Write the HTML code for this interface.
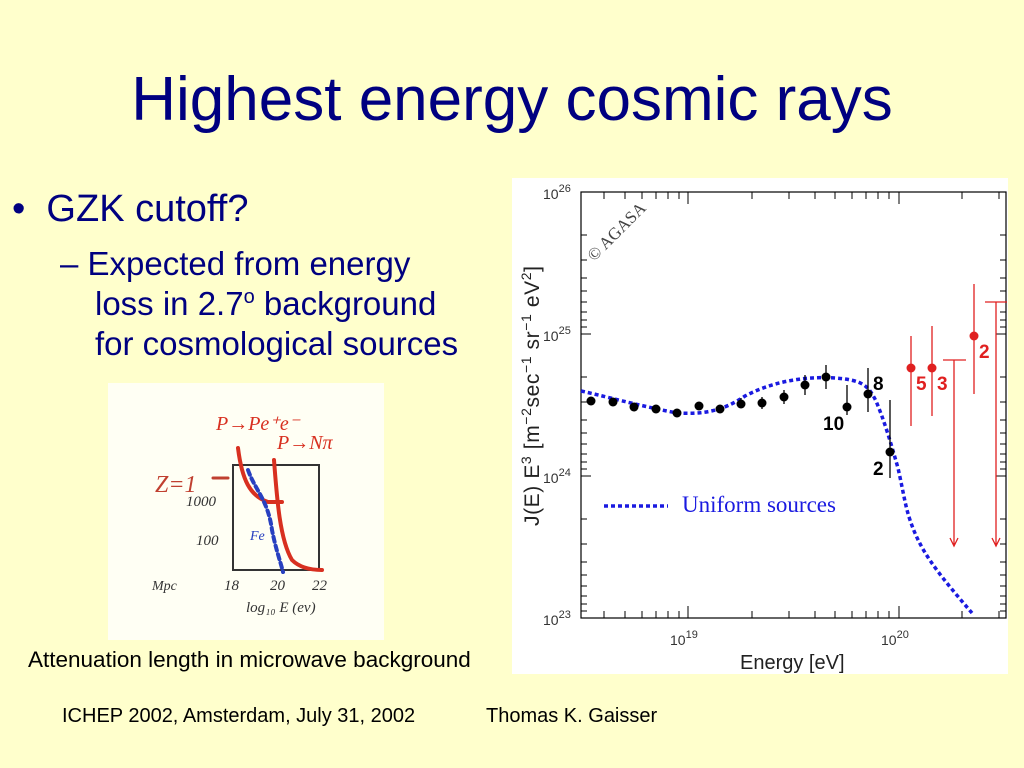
<!DOCTYPE html>
<html><head><meta charset="utf-8"><style>
body{margin:0;width:1024px;height:768px;background:#ffffcc;position:relative;overflow:hidden;font-family:"Liberation Sans",sans-serif}
.t{position:absolute;white-space:nowrap}
sup{position:relative;top:-12px;font-size:20px;vertical-align:baseline;line-height:0}
</style></head><body>
<div class="t" style="left:0;width:1024px;text-align:center;top:64px;font-size:62px;color:#000080">Highest energy cosmic rays</div>
<div class="t" style="left:12px;top:188px;font-size:38px;color:#000080">•&nbsp; GZK cutoff?</div>
<div class="t" style="left:60px;top:244px;font-size:33px;color:#000080;line-height:40px">– Expected from energy</div>
<div class="t" style="left:95px;top:284px;font-size:33px;color:#000080;line-height:40px">loss in 2.7<sup>o</sup> background<br>for cosmological sources</div>
<div class="t" style="left:28px;top:647px;font-size:22.5px;color:#000">Attenuation length in microwave background</div>
<div class="t" style="left:62px;top:705px;font-size:20px;color:#000">ICHEP 2002, Amsterdam, July 31, 2002</div>
<div class="t" style="left:486px;top:705px;font-size:20px;color:#000">Thomas K. Gaisser</div>
<svg width="1024" height="768" style="position:absolute;left:0;top:0">
<!-- sketch -->
<rect x="108" y="383" width="276" height="257" fill="#fffff4"/>
<g fill="none" stroke-linecap="round">
<rect x="233" y="465" width="86" height="105" stroke="#333" stroke-width="2"/>
<path d="M238 448 C242 480 250 496 268 502 L282 502" stroke="#d83020" stroke-width="4"/>
<path d="M274 460 C277 500 280 540 292 560 C300 568 312 570 322 570" stroke="#d83020" stroke-width="4"/>
<path d="M248 470 C255 490 268 500 272 530 C276 550 280 560 283 572" stroke="#2840c0" stroke-width="4" stroke-dasharray="5,4"/>
<path d="M213 478 L228 478" stroke="#c04030" stroke-width="3"/>
</g>
<g font-family="Liberation Serif,serif" font-style="italic">
<text x="216" y="430" fill="#d83020" font-size="20">P→Pe⁺e⁻</text>
<text x="277" y="449" fill="#d83020" font-size="20">P→Nπ</text>
<text x="155" y="492" fill="#c04030" font-size="24">Z=1</text>
<text x="186" y="506" fill="#333" font-size="15">1000</text>
<text x="196" y="545" fill="#333" font-size="15">100</text>
<text x="152" y="590" fill="#333" font-size="14">Mpc</text>
<text x="224" y="590" fill="#333" font-size="15">18</text>
<text x="270" y="590" fill="#333" font-size="15">20</text>
<text x="312" y="590" fill="#333" font-size="15">22</text>
<text x="246" y="612" fill="#333" font-size="15">log₁₀ E (ev)</text>
<text x="250" y="540" fill="#2840c0" font-size="14">Fe</text>
</g>
<!-- chart -->
<rect x="512" y="178" width="496" height="496" fill="#fff"/>
<rect x="581" y="192" width="425" height="426" fill="none" stroke="#000" stroke-width="1.2"/>
<g stroke="#000" stroke-width="1">
<path d="M581 334h10M581 476h10M996 334h10M996 476h10M688 618v-12M899 618v-12M688 192v12M899 192v12"/>
<path d="M581 235h6M581 260h6M581 278h6M581 291h6M581 302h6M581 312h6M581 320h6M581 327h6M581 377h6M581 402h6M581 420h6M581 433h6M581 444h6M581 454h6M581 462h6M581 469h6M581 519h6M581 544h6M581 562h6M581 575h6M581 586h6M581 596h6M581 604h6M581 611h6"/>
<path d="M1000 235h6M1000 260h6M1000 278h6M1000 291h6M1000 302h6M1000 312h6M1000 320h6M1000 327h6M1000 377h6M1000 402h6M1000 420h6M1000 433h6M1000 444h6M1000 454h6M1000 462h6M1000 469h6M1000 519h6M1000 544h6M1000 562h6M1000 575h6M1000 586h6M1000 596h6M1000 604h6M1000 611h6"/>
<path d="M604 618v-7M625 618v-7M642 618v-7M656 618v-7M668 618v-7M679 618v-7M752 618v-7M789 618v-7M815 618v-7M835 618v-7M852 618v-7M866 618v-7M878 618v-7M889 618v-7M962 618v-7M999 618v-7"/>
<path d="M604 192v7M625 192v7M642 192v7M656 192v7M668 192v7M679 192v7M752 192v7M789 192v7M815 192v7M835 192v7M852 192v7M866 192v7M878 192v7M889 192v7M962 192v7M999 192v7"/>
</g>
<g font-size="14" fill="#333">
<text x="543" y="199">10<tspan dy="-7" font-size="11">26</tspan></text>
<text x="543" y="341">10<tspan dy="-7" font-size="11">25</tspan></text>
<text x="543" y="483">10<tspan dy="-7" font-size="11">24</tspan></text>
<text x="543" y="625">10<tspan dy="-7" font-size="11">23</tspan></text>
<text x="670" y="645">10<tspan dy="-7" font-size="11">19</tspan></text>
<text x="881" y="645">10<tspan dy="-7" font-size="11">20</tspan></text>
</g>
<text x="740" y="669" font-size="20" fill="#222">Energy [eV]</text>
<text transform="translate(539,526) rotate(-90)" font-size="21" fill="#222" textLength="260">J(E) E<tspan dy="-8" font-size="14">3</tspan><tspan dy="8"> [m</tspan><tspan dy="-8" font-size="14">−2</tspan><tspan dy="8">sec</tspan><tspan dy="-8" font-size="14">−1</tspan><tspan dy="8"> sr</tspan><tspan dy="-8" font-size="14">−1</tspan><tspan dy="8"> eV</tspan><tspan dy="-8" font-size="14">2</tspan><tspan dy="8">]</tspan></text>
<text transform="translate(594,262) rotate(-45)" font-family="Liberation Serif,serif" font-size="17" fill="#444">© AGASA</text>
<path d="M581 391 C600 395 640 406 677 413 C700 414 720 413 745 396 C770 383 800 376 835 378 C862 380 868 385 876 401 C884 420 890 440 898 468 C904 495 905 505 910 520 C920 550 935 570 972 613" fill="none" stroke="#1a1ae0" stroke-width="3.5" stroke-dasharray="4,3"/>
<path d="M604 506h64" stroke="#1a1ae0" stroke-width="3.5" stroke-dasharray="4,3"/>
<text x="682" y="512" font-family="Liberation Serif,serif" font-size="23" fill="#1a1ae0">Uniform sources</text>
<g stroke="#000" stroke-width="1.3">
<path d="M826 365v24M784 390v14M805 375v20M847 385v30M868 368v44M890 400v78M741 398v10M762 397v12"/>
</g>
<g fill="#000">
<circle cx="591" cy="401" r="4.5"/><circle cx="613" cy="402" r="4.5"/><circle cx="634" cy="407" r="4.5"/><circle cx="656" cy="409" r="4.5"/><circle cx="677" cy="413" r="4.5"/><circle cx="699" cy="406" r="4.5"/><circle cx="720" cy="409" r="4.5"/><circle cx="741" cy="404" r="4.5"/><circle cx="762" cy="403" r="4.5"/><circle cx="784" cy="397" r="4.5"/><circle cx="805" cy="385" r="4.5"/><circle cx="826" cy="377" r="4.5"/><circle cx="847" cy="407" r="4.5"/><circle cx="868" cy="394" r="4.5"/><circle cx="890" cy="452" r="4.5"/>
</g>
<g font-weight="bold" font-size="19" fill="#000"><text x="873" y="390">8</text><text x="823" y="430">10</text><text x="873" y="475">2</text></g>
<g stroke="#e02020" stroke-width="1.3" fill="none">
<path d="M911 336v90M932 326v90M974 284v110M943 360h23M954 360v185M985 302h22M996 302v243M950 538l4 8 4-8M992 538l4 8 4-8"/>
</g>
<g fill="#e02020"><circle cx="911" cy="368" r="4.5"/><circle cx="932" cy="368" r="4.5"/><circle cx="974" cy="336" r="4.5"/></g>
<g font-weight="bold" font-size="19" fill="#e02020"><text x="916" y="390">5</text><text x="937" y="390">3</text><text x="979" y="358">2</text></g>
</svg>
</body></html>
